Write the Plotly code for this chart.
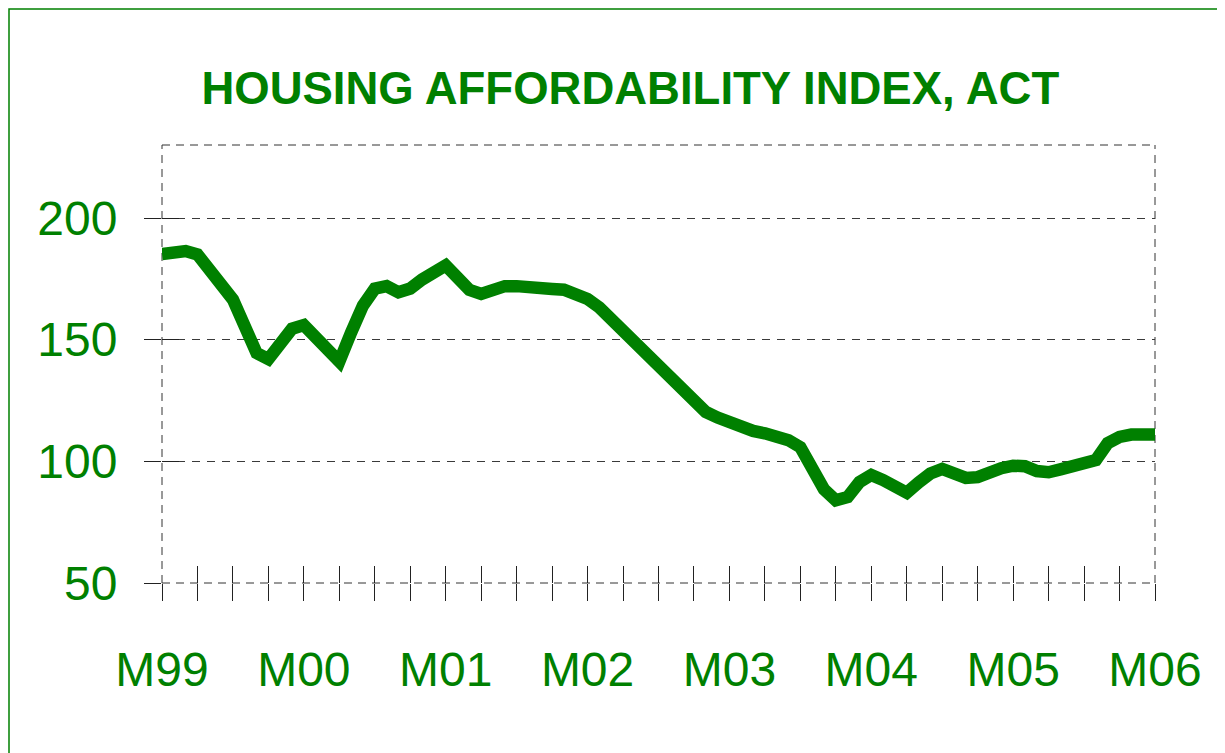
import plotly.graph_objects as go

# ---- data -------------------------------------------------------------
title_text = "HOUSING AFFORDABILITY INDEX, ACT"
year_labels = ["M99", "M00", "M01", "M02", "M03", "M04", "M05", "M06"]
months = list(range(85))  # monthly observations, M99 .. M06
index_values = [
    185.2, 185.8, 186.4, 185.0, 178.5, 172.5, 166.5, 155.5, 144.5, 142.0,
    147.5, 154.5, 156.0, 151.0, 145.0, 141.0, 153.0, 164.0, 171.0, 172.0,
    169.5, 171.0, 174.7, 178.3, 180.5, 175.5, 170.5, 168.8, 170.2, 172.0,
    172.0, 172.0, 171.5, 170.8, 170.5, 169.0, 166.7, 163.2, 158.5, 153.5,
    148.6, 143.8, 138.9, 134.0, 129.2, 124.8, 120.3, 118.0, 116.0, 114.0,
    112.5, 111.5, 110.5, 108.7, 105.8, 98.0, 88.5, 84.0, 85.3, 91.5,
    94.4, 92.3, 89.9, 87.1, 91.3, 95.0, 96.9, 95.2, 93.2, 93.5,
    96.0, 97.2, 98.2, 98.0, 96.0, 95.5, 96.7, 97.9, 98.8, 100.5,
    107.5, 110.0, 111.0, 111.0, 111.0,
]
y_ticks = [50, 100, 150, 200]
y_range = [50, 230]

GREEN = "#008000"
GRID = "#3a3a3a"
FONT = "Liberation Sans, Arial, sans-serif"

year_ticks = [months[i] for i in range(0, len(months), 12)]
quarter_ticks = [months[i] for i in range(0, len(months), 3)]
x_range = [months[0], months[-1]]

fig = go.Figure()
fig.add_trace(go.Scatter(
    x=months, y=index_values, mode="lines",
    line=dict(color=GREEN, width=12.5),
    showlegend=False, hoverinfo="skip",
))
# invisible trace to carry the overlay axes (inside half of crossing ticks)
fig.add_trace(go.Scatter(
    x=[None], y=[None], xaxis="x2", yaxis="y2",
    showlegend=False, hoverinfo="skip",
))

fig.update_layout(
    width=1225, height=753,
    margin=dict(l=154, r=78, t=137, b=178, pad=0),
    paper_bgcolor="white", plot_bgcolor="white",
    font=dict(family=FONT, color=GREEN),
    title=dict(
        text=title_text, x=0.508, xanchor="center", y=0.894, yanchor="middle",
        font=dict(size=45.5, color=GREEN, family=FONT, weight="bold"),
    ),
    xaxis=dict(
        range=x_range, tickmode="array", tickvals=year_ticks, ticktext=year_labels,
        ticks="outside", ticklen=17, tickcolor="#222", tickwidth=1,
        minor=dict(tickmode="array", tickvals=quarter_ticks, ticks="outside",
                   ticklen=17, tickcolor="#222", tickwidth=1, showgrid=False),
        showgrid=False, zeroline=False, showline=False,
        tickfont=dict(size=48, color=GREEN, family=FONT),
        ticklabelstandoff=27,
    ),
    xaxis2=dict(
        range=x_range, overlaying="x", anchor="y", side="bottom",
        tickmode="array", tickvals=quarter_ticks, ticks="inside", ticklen=17,
        tickcolor="#222", tickwidth=1, showticklabels=False,
        showgrid=False, zeroline=False, showline=False,
    ),
    yaxis=dict(
        range=y_range, tickmode="array", tickvals=y_ticks,
        ticks="outside", ticklen=17, tickcolor="#222", tickwidth=1,
        showgrid=True, griddash="8px,7px", gridcolor=GRID, gridwidth=1,
        zeroline=False, showline=False,
        tickfont=dict(size=48, color=GREEN, family=FONT),
        ticklabelstandoff=17,
    ),
    yaxis2=dict(
        range=y_range, overlaying="y", anchor="x", side="left",
        tickmode="array", tickvals=y_ticks, ticks="inside", ticklen=17,
        tickcolor="#222", tickwidth=1, showticklabels=False,
        showgrid=False, zeroline=False, showline=False,
    ),
)

# dashed plot-area frame
frame = dict(type="line", xref="paper", yref="paper",
             line=dict(color="#333", width=1, dash="8px,6px"), layer="below")
fig.add_shape(x0=0, x1=1, y0=1, y1=1, **frame)
fig.add_shape(x0=0, x1=1, y0=0, y1=0, **frame)
fig.add_shape(x0=0, x1=0, y0=0, y1=1, **frame)
fig.add_shape(x0=1, x1=1, y0=0, y1=1, **frame)

# thin green outer border around the whole chart
fig.add_shape(type="rect", xref="paper", yref="paper",
              x0=-153.0 / 993, x1=1066 / 993, y0=-177 / 438, y1=574.0 / 438,
              line=dict(color=GREEN, width=1.5), fillcolor="rgba(0,0,0,0)",
              layer="below")

fig.write_html("out.html")
